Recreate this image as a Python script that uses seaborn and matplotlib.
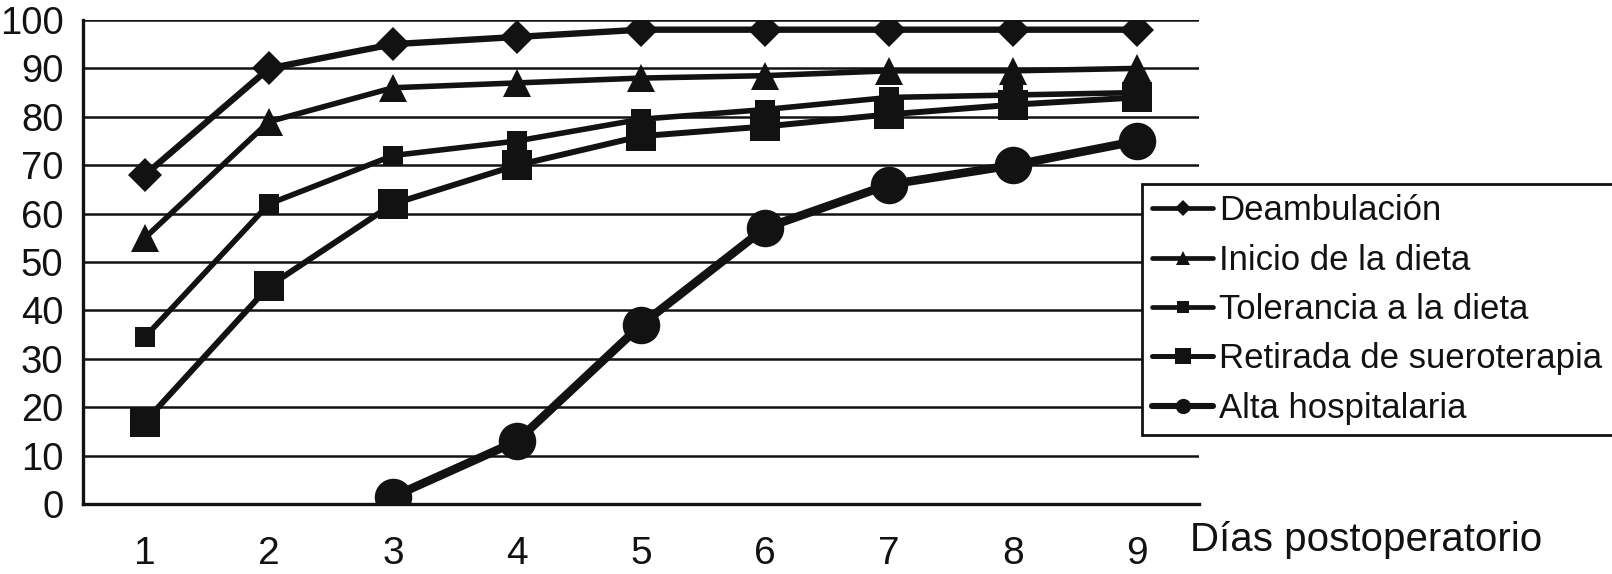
import numpy as np
import pandas as pd
import matplotlib
matplotlib.use("Agg")
import matplotlib.pyplot as plt
from matplotlib.lines import Line2D
import seaborn as sns

# ---- data ----
days = [1, 2, 3, 4, 5, 6, 7, 8, 9]
deambulacion = [68, 90, 95, 96.5, 98, 98, 98, 98, 98]
inicio_dieta = [55, 79, 86, 87, 88, 88.5, 89.5, 89.5, 90]
tolerancia_dieta = [34.5, 62, 72, 75, 79.5, 81.5, 84, 84.5, 85]
retirada_sueroterapia = [17, 45, 62, 70, 76, 78, 80.5, 82.5, 84]
alta_hospitalaria = [np.nan, np.nan, 1.5, 13, 37, 57, 66, 70, 75]

series_names = ["Deambulación", "Inicio de la dieta", "Tolerancia a la dieta",
                "Retirada de sueroterapia", "Alta hospitalaria"]
series_values = [deambulacion, inicio_dieta, tolerancia_dieta,
                 retirada_sueroterapia, alta_hospitalaria]
y_ticks = [0, 10, 20, 30, 40, 50, 60, 70, 80, 90, 100]
x_label = "Días postoperatorio"

# ---- styles ----
markers = ["D", "^", "s", "s", "o"]
marker_sizes = [17, 20.5, 15, 21.5, 27]
line_widths = [4.6, 4.0, 4.0, 4.3, 6.2]
legend_ms = [8, 10, 8, 11, 11]
legend_lw = [3.4, 3.4, 3.4, 3.6, 4.4]
ink = "#121212"

sns.set_theme(style="white")
plt.rcParams["font.family"] = ["Liberation Sans", "DejaVu Sans"]

df = pd.DataFrame({"day": days})
for name, vals in zip(series_names, series_values):
    df[name] = vals
long = df.melt(id_vars="day", var_name="serie", value_name="pct").dropna()

fig = plt.figure(figsize=(16.12, 5.74), dpi=100)
ax = fig.add_axes([83 / 1612, 1 - 504 / 574, (1199 - 83) / 1612, (504 - 20) / 574])

for name, mk, ms, lw in zip(series_names, markers, marker_sizes, line_widths):
    sub = long[long["serie"] == name]
    sns.lineplot(data=sub, x="day", y="pct", ax=ax, color=ink, linewidth=lw,
                 marker=mk, markersize=ms, markeredgewidth=0, legend=False,
                 zorder=3)

ax.set_xlim(0.5, 9.5)
ax.set_ylim(0, 100)
ax.set_yticks(y_ticks)
ax.set_yticklabels([str(v) for v in y_ticks], fontsize=27.5, color=ink)
ax.set_xticks(days)
ax.set_xticklabels([str(d) for d in days], fontsize=28, color=ink)
ax.set_xticks([d - 0.5 for d in days] + [9.5], minor=True)
ax.tick_params(axis="x", which="major", length=0, pad=23)
ax.tick_params(axis="x", which="minor", length=9, width=2.2, color=ink, direction="out")
ax.tick_params(axis="y", which="major", length=10, width=2.2, color=ink, pad=4, direction="out")
ax.set_xlabel("")
ax.set_ylabel("")
ax.grid(axis="y", color=ink, linewidth=1.8)
ax.grid(axis="x", visible=False)
ax.set_axisbelow(True)
for side in ["top", "right"]:
    ax.spines[side].set_visible(False)
for side in ["left", "bottom"]:
    ax.spines[side].set_color(ink)
    ax.spines[side].set_linewidth(2.4)

fig.text(1190 / 1612, 1 - 551 / 574, x_label, fontsize=29, color=ink,
         ha="left", va="baseline")

handles = [Line2D([0], [0], color=ink, lw=lw, marker=mk, markersize=ms,
                  markeredgewidth=0)
           for mk, ms, lw in zip(markers, legend_ms, legend_lw)]
leg = fig.legend(handles, series_names, loc="upper left",
                 bbox_to_anchor=(1142 / 1612, 1 - 184 / 574),
                 borderaxespad=0, fontsize=25, frameon=True, fancybox=False,
                 framealpha=1, edgecolor=ink, handlelength=1.75,
                 handletextpad=0.18, labelspacing=0.47, borderpad=0.3)
leg.get_frame().set_linewidth(2.0)
for t in leg.get_texts():
    t.set_color(ink)

fig.savefig("out.png", dpi=100, facecolor="white")
